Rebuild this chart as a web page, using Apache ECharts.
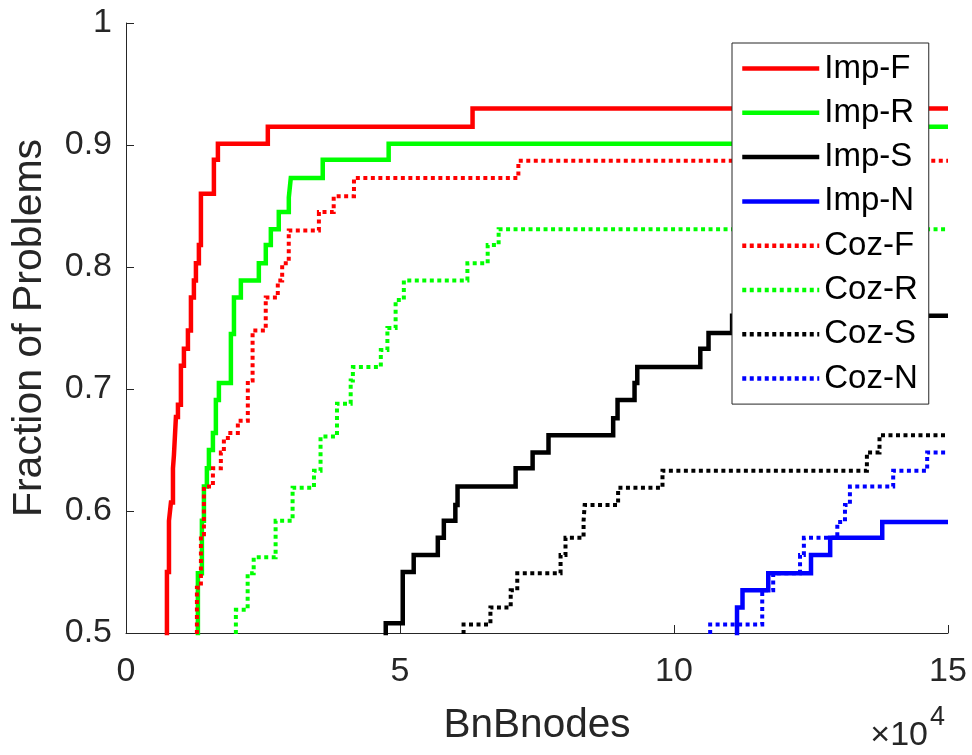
<!DOCTYPE html>
<html>
<head>
<meta charset="utf-8">
<script src="https://cdn.jsdelivr.net/npm/echarts@6/dist/echarts.min.js"></script>
<style>
  html, body { margin: 0; padding: 0; background: #fff; }
  #chart { width: 972px; height: 755px; }
</style>
</head>
<body>
<div id="chart"></div>
<script>
// step data: [BnB nodes, fraction of problems solved]
const impF = [[7470, 0.45], [7470, 0.55], [7840, 0.592], [8200, 0.607], [8570, 0.635], [8750, 0.646],
  [9110, 0.677], [9480, 0.687], [10020, 0.719], [10570, 0.733], [11300, 0.748], [11850, 0.775],
  [12390, 0.789], [12760, 0.803], [13300, 0.818], [13670, 0.860], [16040, 0.888], [16770, 0.901],
  [25880, 0.915], [63240, 0.930], [150000, 0.930]]
const impR = [[13120, 0.45], [13120, 0.549], [13850, 0.592], [14220, 0.620], [14760, 0.635], [15130, 0.650],
  [15860, 0.664], [16400, 0.691], [16950, 0.705], [19140, 0.745], [19700, 0.775], [20960, 0.789],
  [24240, 0.803], [25510, 0.818], [26430, 0.831], [27880, 0.845], [29710, 0.857], [30070, 0.873],
  [35900, 0.888], [47930, 0.901], [130000, 0.915], [150000, 0.915]]
const impS = [[47400, 0.45], [47400, 0.508], [50500, 0.550], [52500, 0.564], [56900, 0.578], [58000, 0.592],
  [60100, 0.605], [60500, 0.620], [71100, 0.635], [74200, 0.648], [77100, 0.662], [88900, 0.676],
  [89700, 0.691], [92800, 0.705], [93300, 0.718], [104800, 0.733], [106300, 0.746], [110600, 0.760],
  [150000, 0.760]]
const impN = [[111500, 0.45], [111500, 0.521], [112500, 0.535], [117200, 0.549], [125000, 0.564],
  [128500, 0.578], [138000, 0.591], [150000, 0.591]]
const cozF = [[12940, 0.45], [12940, 0.537], [13670, 0.581], [14220, 0.620], [15860, 0.635], [17310, 0.648],
  [17860, 0.657], [18590, 0.664], [20410, 0.674], [22230, 0.707], [23100, 0.748], [25500, 0.775],
  [27700, 0.789], [28500, 0.803], [29700, 0.830], [35200, 0.845], [37900, 0.858], [41600, 0.873],
  [71600, 0.887], [150000, 0.887]]
const cozR = [[20050, 0.45], [20050, 0.519], [22200, 0.549], [23300, 0.562], [27300, 0.592], [30400, 0.619],
  [34300, 0.633], [35500, 0.661], [38500, 0.688], [41000, 0.707], [41400, 0.718], [46500, 0.732],
  [47700, 0.750], [49200, 0.773], [50700, 0.789], [62300, 0.803], [66000, 0.818], [68000, 0.831],
  [150000, 0.831]]
const cozS = [[61600, 0.45], [61600, 0.507], [66500, 0.521], [70200, 0.535], [71400, 0.549], [79300, 0.564],
  [80200, 0.578], [83500, 0.592], [83700, 0.605], [89800, 0.619], [97900, 0.633], [135200, 0.648],
  [137500, 0.662], [150000, 0.662]]
const cozN = [[106600, 0.45], [106600, 0.507], [116100, 0.535], [118100, 0.549], [123000, 0.564],
  [123700, 0.578], [129800, 0.591], [131200, 0.605], [132100, 0.620], [140000, 0.633], [146200, 0.648],
  [150000, 0.648]]

const seriesNames = ["Imp-F", "Imp-R", "Imp-S", "Imp-N", "Coz-F", "Coz-R", "Coz-S", "Coz-N"]
const seriesData = [impF, impR, impS, impN, cozF, cozR, cozS, cozN]

const colors = ["#ff0000", "#00ff00", "#000000", "#0000ff"]
const font = "Liberation Sans"
const ink = "#262626"

const chart = echarts.init(document.getElementById("chart"))

const series = seriesNames.map((name, i) => {
  const dotted = i >= 4
  return {
    name,
    type: "line",
    step: "end",
    data: seriesData[i],
    symbol: "none",
    showSymbol: false,
    clip: true,
    lineStyle: {
      color: colors[i % 4],
      width: dotted ? 4 : 4.5,
      type: dotted ? [4, 3.5] : "solid",
      cap: "butt",
      join: "miter"
    },
    itemStyle: { color: colors[i % 4] }
  }
})

const option = {
  animation: false,
  backgroundColor: "#fff",
  textStyle: { fontFamily: font },
  grid: { left: 126, right: 24, top: 23, bottom: 122, outerBoundsMode: "none" },
  xAxis: {
    type: "value",
    min: 0,
    max: 150000,
    interval: 50000,
    name: "BnBnodes",
    nameLocation: "middle",
    nameGap: 72,
    nameTextStyle: { fontFamily: font, fontSize: 40.5, color: ink },
    axisLine: { show: true, lineStyle: { color: ink, width: 1 } },
    axisTick: { show: true, inside: true, length: 8, lineStyle: { color: ink } },
    axisLabel: { fontFamily: font, fontSize: 34, color: ink, margin: 22, formatter: v => String(v / 10000) },
    splitLine: { show: false }
  },
  yAxis: {
    type: "value",
    min: 0.5,
    max: 1,
    interval: 0.1,
    name: "Fraction of Problems",
    nameLocation: "middle",
    nameGap: 76,
    nameTextStyle: { fontFamily: font, fontSize: 41, color: ink },
    axisLine: { show: true, lineStyle: { color: ink, width: 1 } },
    axisTick: { show: true, inside: true, length: 8, lineStyle: { color: ink } },
    axisLabel: { fontFamily: font, fontSize: 34, color: ink, margin: 14, formatter: v => String(Math.round(v * 10) / 10) },
    splitLine: { show: false }
  },
  legend: {
    orient: "vertical",
    left: 732,
    top: 43,
    padding: [9, 11, 9, 8],
    itemWidth: 77,
    itemHeight: 20,
    itemGap: 11.3,
    backgroundColor: "#fff",
    borderColor: ink,
    borderWidth: 1,
    borderRadius: 0,
    itemStyle: { opacity: 0 },
    lineStyle: { width: 4.5 },
    textStyle: { fontFamily: font, fontSize: 33, color: "#000", lineHeight: 33 },
    data: seriesNames
  },
  graphic: [
    {
      type: "text",
      x: 928,
      y: 736,
      style: { text: "×10", font: "34px 'Liberation Sans'", fill: ink, align: "right", verticalAlign: "middle" }
    },
    {
      type: "text",
      x: 930,
      y: 718,
      style: { text: "4", font: "27px 'Liberation Sans'", fill: ink, align: "left", verticalAlign: "middle" }
    }
  ],
  series
}

chart.setOption(option)
window.addEventListener("resize", () => chart.resize())
</script>
</body>
</html>
